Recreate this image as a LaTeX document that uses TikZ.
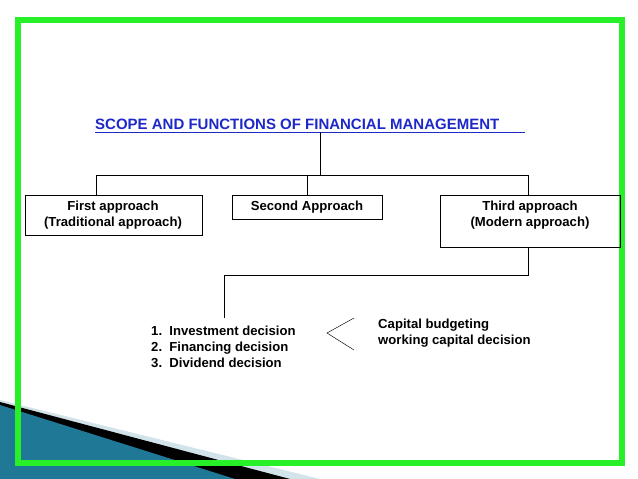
\documentclass[tikz,border=0pt]{standalone}
\usepackage{fontspec}
\setmainfont{Liberation Sans}
\usetikzlibrary{positioning}
\definecolor{frame}{RGB}{40,240,40}
\definecolor{teal}{RGB}{30,120,150}
\definecolor{titleblue}{RGB}{30,40,200}
\tikzset{btext/.style={font=\bfseries\fontsize{11.2}{13.5}\selectfont,align=center}}
\begin{document}
\begin{tikzpicture}[x=0.03cm,y=-0.03cm]
\useasboundingbox (0,0) rectangle (638,479);

% corner decoration
\fill[teal!20] (0,400)--(320,479)--(0,479)--cycle;
\fill[black] (0,402)--(290,479)--(0,479)--cycle;
\fill[teal] (0,405)--(235,479)--(0,479)--cycle;
\draw[frame,line width=4.5pt] (18,20) rectangle (622,463);

% title
\node[font=\bfseries\fontsize{12.8}{15}\selectfont,text=titleblue,anchor=base west,inner sep=0pt] (title) at (95,129) {SCOPE AND FUNCTIONS OF FINANCIAL MANAGEMENT};
\draw[titleblue] (95,132) -- (525,132);

% approaches
\draw (25,195) rectangle (202,235);
\node[btext] (f) at (113,215) {First approach\\(Traditional approach)};
\draw (232,195) rectangle (382,219);
\node[btext] (s) at (307,207) {Second Approach};
\draw (440,195) rectangle (620,247);
\node[btext] (t) at (530,215) {Third approach\\(Modern approach)};

\coordinate (top) at (320,132);
\draw (top) -- (320,175);
\draw (96,195) -- (96,175) -- (528,175) -- (528,195);
\draw (307,175) -- (307,195);
\draw (528,247) -- (528,275) -- (224,275) -- (224,318);

% decisions
\node[btext,anchor=north west,align=left,inner sep=0pt] (list) at (151,326)
  {1.\ \ Investment decision\\2.\ \ Financing decision\\3.\ \ Dividend decision};
\draw (354,318) -- (327,333) -- (354,350);
\node[btext,anchor=north west,align=left,inner sep=0pt] (cap) at (378,319)
  {Capital budgeting\\working capital decision};
\end{tikzpicture}
\end{document}
